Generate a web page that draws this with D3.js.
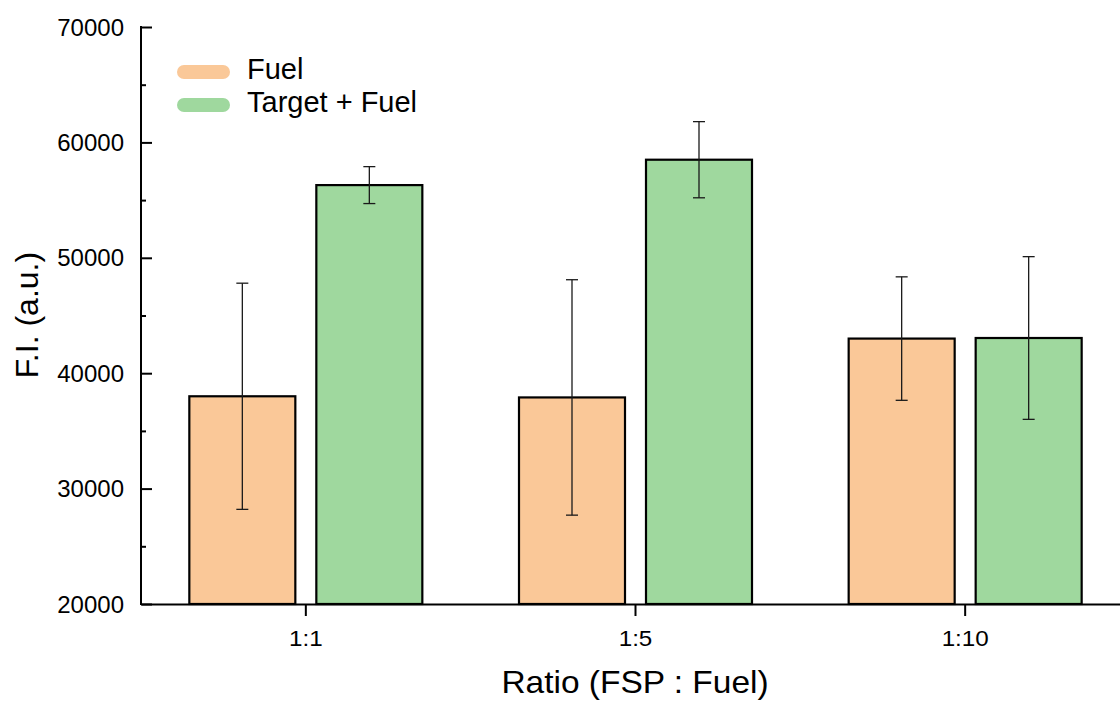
<!DOCTYPE html>
<html>
<head>
<meta charset="utf-8">
<script src="https://cdn.jsdelivr.net/npm/d3@7"></script>
<style>
body { margin: 0; background: #fff; }
svg text { font-family: "Liberation Sans", Arial, sans-serif; fill: #000; }
</style>
</head>
<body>
<div class="container"></div>
<script>
// data
var categories = ["1:1", "1:5", "1:10"];
var seriesNames = ["Fuel", "Target + Fuel"];
var fuelValues = [38000, 37900, 43000];
var fuelErrors = [9800, 10200, 5350];
var targetValues = [56300, 58500, 43050];
var targetErrors = [1600, 3300, 7050];
var yTicks = [20000, 30000, 40000, 50000, 60000, 70000];

var colors = ["#fac898", "#9fd89e"];

var W = 1120, H = 703;
var padLeft = 141, padBottom = 604, padTop = 27;

var svg = d3.select(".container")
.append("svg")
.attr("width", W)
.attr("height", H);

var x = d3.scaleBand().domain(categories).range([padLeft, 1130]).paddingInner(0).paddingOuter(0);
var y = d3.scaleLinear().domain([20000, 70000]).range([padBottom, padTop]);

var barW = 106, offset = 63.5;

var rows = [];
categories.forEach(function(c, i){
	rows.push({cat: c, s: 0, v: fuelValues[i], e: fuelErrors[i]});
	rows.push({cat: c, s: 1, v: targetValues[i], e: targetErrors[i]});
});
var cx = function(d){ return x(d.cat) + x.bandwidth() / 2 + (d.s === 0 ? -offset : offset); };

// bars
svg.append("g").selectAll("rect").data(rows).enter().append("rect")
.attr("x", function(d){ return cx(d) - barW / 2; })
.attr("y", function(d){ return y(d.v); })
.attr("width", barW)
.attr("height", function(d){ return y(20000) - y(d.v); })
.style("fill", function(d){ return colors[d.s]; })
.style("stroke", "#000")
.style("stroke-width", 2.2);

// error bars
var err = svg.append("g").selectAll("g").data(rows).enter().append("g")
.style("stroke", "#1a1a1a").style("stroke-width", 1.3);
err.append("line")
.attr("x1", cx).attr("x2", cx)
.attr("y1", function(d){ return y(d.v + d.e); })
.attr("y2", function(d){ return y(d.v - d.e); });
err.append("line")
.attr("x1", function(d){ return cx(d) - 6; }).attr("x2", function(d){ return cx(d) + 6; })
.attr("y1", function(d){ return y(d.v + d.e); }).attr("y2", function(d){ return y(d.v + d.e); });
err.append("line")
.attr("x1", function(d){ return cx(d) - 6; }).attr("x2", function(d){ return cx(d) + 6; })
.attr("y1", function(d){ return y(d.v - d.e); }).attr("y2", function(d){ return y(d.v - d.e); });

// y axis: ticks point inward
var yAxis = svg.append("g").attr("transform", "translate(" + padLeft + ",0)")
.call(d3.axisRight(y).tickValues(yTicks).tickSize(11).tickFormat(""));
yAxis.select(".domain").remove();
svg.append("g").attr("transform", "translate(" + padLeft + ",0)")
.call(d3.axisRight(y).tickValues(d3.range(25000, 70000, 10000)).tickSize(5).tickFormat(""))
.select(".domain").remove();
svg.selectAll(".tick line").style("stroke", "#000").style("stroke-width", 2);
svg.append("line").attr("x1", padLeft).attr("x2", padLeft).attr("y1", y(70000) - 1).attr("y2", y(20000) + 1)
.style("stroke", "#000").style("stroke-width", 2);

svg.append("g").selectAll("text").data(yTicks).enter().append("text")
.attr("x", 124).attr("y", function(d){ return y(d) + 8.5; })
.attr("text-anchor", "end").style("font-size", "24px")
.text(function(d){ return d; });

// x axis
var xAxis = svg.append("g").attr("transform", "translate(0," + padBottom + ")")
.call(d3.axisBottom(x).tickSizeInner(12).tickSizeOuter(0).tickFormat(""));
xAxis.select(".domain").style("stroke", "#000").style("stroke-width", 2);
xAxis.selectAll(".tick line").style("stroke", "#000").style("stroke-width", 2);
svg.append("g").selectAll("text").data(categories).enter().append("text")
.attr("transform", function(d){ return "translate(" + (x(d) + x.bandwidth() / 2) + ",646) scale(1.1,1)"; })
.attr("text-anchor", "middle").style("font-size", "22px")
.text(function(d){ return d; });

// titles
svg.append("text").attr("transform", "translate(635,693) scale(1.08,1)").attr("text-anchor", "middle")
.style("font-size", "31px").text("Ratio (FSP : Fuel)");
svg.append("text").attr("transform", "translate(38,315) rotate(-90)").attr("text-anchor", "middle")
.style("font-size", "32px").text("F.I. (a.u.)");

// legend
var legend = svg.append("g").selectAll("g").data(seriesNames).enter().append("g")
.attr("transform", function(d, i){ return "translate(177," + (65 + i * 33) + ")"; });
legend.append("rect").attr("width", 53).attr("height", 14).attr("rx", 7)
.style("fill", function(d, i){ return colors[i]; });
legend.append("text").attr("x", 70).attr("y", 14).style("font-size", "29px")
.text(function(d){ return d; });
</script>
</body>
</html>
